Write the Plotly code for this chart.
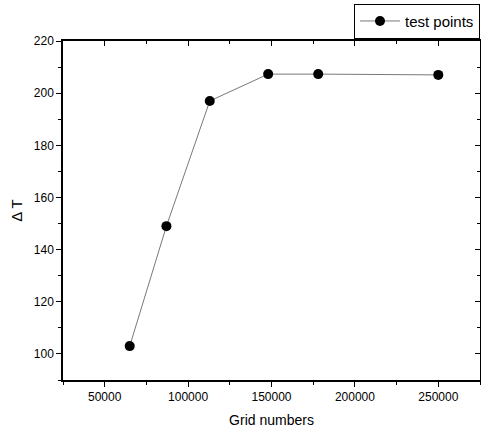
import plotly.graph_objects as go

grid_numbers = [65000, 87000, 113000, 148000, 178000, 250000]
delta_t = [103, 149, 197, 207.3, 207.3, 207]
series_name = "test points"

fig = go.Figure()
fig.add_trace(go.Scatter(
    x=grid_numbers, y=delta_t, mode="lines+markers", name=series_name,
    line=dict(color="#555555", width=0.8),
    marker=dict(color="black", size=10, symbol="circle"),
))
# invisible trace to draw mirrored inward ticks on top/right
fig.add_trace(go.Scatter(
    x=grid_numbers, y=delta_t, mode="lines", xaxis="x2", yaxis="y2",
    line=dict(width=0), opacity=0, showlegend=False, hoverinfo="skip",
))

font = dict(family="Liberation Sans, Arial, sans-serif", color="black")
fig.update_layout(
    width=481, height=434,
    margin=dict(l=63, r=1, t=41, b=54),
    paper_bgcolor="white", plot_bgcolor="white",
    font=dict(**font, size=12),
    showlegend=True,
    legend=dict(x=1, xanchor="right", y=1.11, yanchor="top",
                bordercolor="black", borderwidth=1, font=dict(size=15),
                bgcolor="white", itemwidth=40),
    xaxis=dict(
        range=[25000, 275000], tickvals=[50000, 100000, 150000, 200000, 250000],
        ticktext=["50000", "100000", "150000", "200000", "250000"],
        ticks="outside", ticklen=5, tickwidth=1, tickcolor="black",
        minor=dict(tickvals=[25000, 75000, 125000, 175000, 225000, 275000], ticks="outside", ticklen=3, tickcolor="black"),
        showline=True, linecolor="black", linewidth=1.5, showgrid=False, zeroline=False,
        title=dict(text="Grid numbers", font=dict(size=14), standoff=12),
        tickfont=dict(size=12),
    ),
    yaxis=dict(
        range=[90, 220], tickvals=[100, 120, 140, 160, 180, 200, 220],
        ticks="outside", ticklen=5, tickwidth=1, tickcolor="black",
        minor=dict(tickvals=[90, 110, 130, 150, 170, 190, 210], ticks="outside", ticklen=3, tickcolor="black"),
        showline=True, linecolor="black", linewidth=1.5, showgrid=False, zeroline=False,
        title=dict(text="Δ T", font=dict(size=15), standoff=8),
        tickfont=dict(size=12),
    ),
    xaxis2=dict(
        overlaying="x", side="top", matches="x", range=[25000, 275000],
        tickvals=[50000, 100000, 150000, 200000, 250000], showticklabels=False,
        ticks="inside", ticklen=5, tickcolor="black",
        minor=dict(tickvals=[25000, 75000, 125000, 175000, 225000, 275000], ticks="inside", ticklen=3, tickcolor="black"),
        showline=True, linecolor="black", linewidth=1.5, showgrid=False, zeroline=False,
    ),
    yaxis2=dict(
        overlaying="y", side="right", matches="y", range=[90, 220],
        tickvals=[100, 120, 140, 160, 180, 200, 220], showticklabels=False,
        ticks="inside", ticklen=5, tickcolor="black",
        minor=dict(tickvals=[90, 110, 130, 150, 170, 190, 210], ticks="inside", ticklen=3, tickcolor="black"),
        showline=True, linecolor="black", linewidth=1.5, showgrid=False, zeroline=False,
    ),
)

fig.write_html("out.html")
